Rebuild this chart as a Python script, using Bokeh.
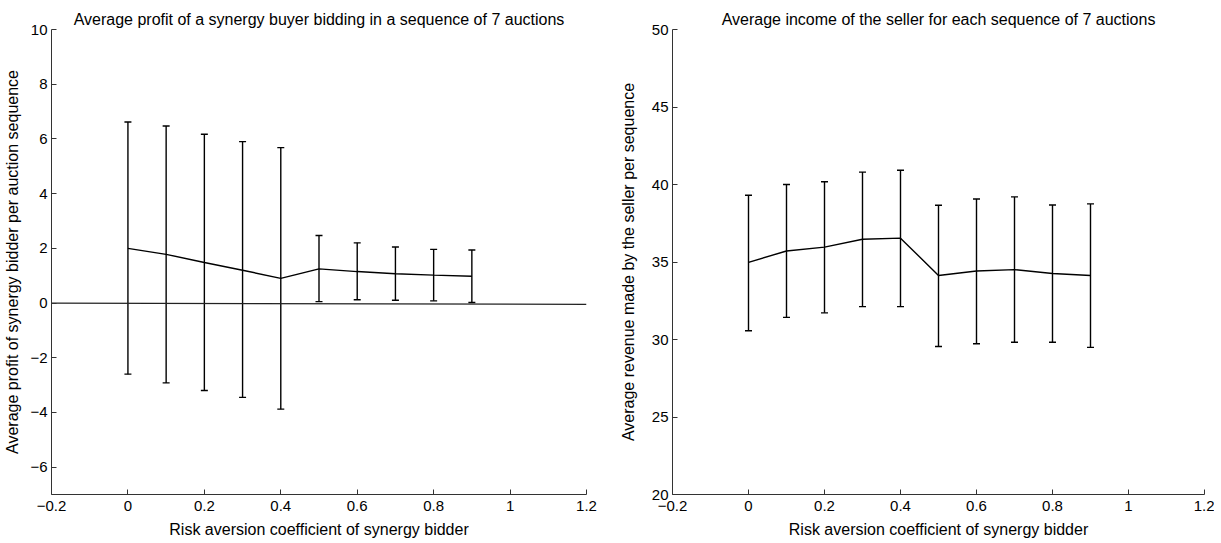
from bokeh.plotting import figure
from bokeh.layouts import row
from bokeh.models import ColumnDataSource, Whisker, TeeHead, FixedTicker, Range1d
from bokeh.embed import file_html
from bokeh.resources import INLINE

# ---- data ----
risk = [0.0, 0.1, 0.2, 0.3, 0.4, 0.5, 0.6, 0.7, 0.8, 0.9]

profit_mean = [2.0, 1.78, 1.48, 1.2, 0.9, 1.25, 1.15, 1.07, 1.02, 0.98]
profit_upper = [6.62, 6.47, 6.17, 5.9, 5.68, 2.47, 2.2, 2.05, 1.96, 1.94]
profit_lower = [-2.6, -2.92, -3.2, -3.45, -3.88, 0.05, 0.12, 0.1, 0.08, 0.02]

zero_x = [-0.2, 1.2]
zero_y = [0.0, -0.05]

income_mean = [34.98, 35.71, 35.96, 36.47, 36.54, 34.13, 34.42, 34.51, 34.26, 34.13]
income_upper = [39.31, 40.0, 40.18, 40.8, 40.92, 38.66, 39.06, 39.2, 38.68, 38.75]
income_lower = [30.56, 31.43, 31.72, 32.12, 32.12, 29.55, 29.73, 29.82, 29.82, 29.49]

x_ticks = [-0.2, 0.0, 0.2, 0.4, 0.6, 0.8, 1.0, 1.2]
x_tick_labels = {-0.2: "\u22120.2", 0.0: "0", 0.2: "0.2", 0.4: "0.4", 0.6: "0.6",
                 0.8: "0.8", 1.0: "1", 1.2: "1.2"}
left_y_ticks = [-6, -4, -2, 0, 2, 4, 6, 8, 10]
left_y_labels = {-6: "\u22126", -4: "\u22124", -2: "\u22122", 0: "0", 2: "2",
                 4: "4", 6: "6", 8: "8", 10: "10"}
right_y_ticks = [20, 25, 30, 35, 40, 45, 50]

FONT = "Liberation Sans"
AXIS_COLOR = "#333333"


def style(p, yticks, ylabels=None, ylabel_standoff=3):
    p.xgrid.visible = False
    p.ygrid.visible = False
    p.outline_line_color = None
    p.title.text_font = FONT
    p.title.text_font_style = "normal"
    p.title.text_font_size = "16px"
    p.title.align = "center"
    p.title.text_color = "black"
    p.title.standoff = 3
    for ax in (p.xaxis[0], p.yaxis[0]):
        ax.major_tick_in = 5
        ax.major_tick_out = 0
        ax.minor_tick_in = 0
        ax.minor_tick_out = 0
        ax.axis_line_color = AXIS_COLOR
        ax.major_tick_line_color = AXIS_COLOR
        ax.major_label_text_font = FONT
        ax.major_label_text_font_size = "15px"
        ax.major_label_text_color = "black"
        ax.axis_label_text_font = FONT
        ax.axis_label_text_font_style = "normal"
        ax.axis_label_text_color = "black"
        ax.axis_label_text_font_size = "16px"
    p.xaxis[0].ticker = FixedTicker(ticks=x_ticks)
    p.xaxis[0].major_label_overrides = x_tick_labels
    p.xaxis[0].major_label_standoff = 6
    p.xaxis[0].axis_label_standoff = 7
    p.yaxis[0].ticker = FixedTicker(ticks=yticks)
    p.yaxis[0].major_label_standoff = 4
    p.yaxis[0].axis_label_standoff = ylabel_standoff
    if ylabels:
        p.yaxis[0].major_label_overrides = ylabels


# ---- left panel ----
p1 = figure(frame_width=535, frame_height=465, output_backend="svg", toolbar_location=None,
            x_range=Range1d(-0.2, 1.2), y_range=Range1d(-7, 10),
            title="Average profit of a synergy buyer bidding in a sequence of 7 auctions",
            x_axis_label="Risk aversion coefficient of synergy bidder",
            y_axis_label="Average profit of synergy bidder per auction sequence",
            min_border_left=51, min_border_right=30, min_border_top=29, min_border_bottom=48)
style(p1, left_y_ticks, left_y_labels, ylabel_standoff=6)

src1 = ColumnDataSource(dict(x=risk, m=profit_mean, up=profit_upper, lo=profit_lower))
p1.line(zero_x, zero_y, line_color="#222222", line_width=1.2)
p1.line("x", "m", source=src1, line_color="black", line_width=1.4)
p1.add_layout(Whisker(source=src1, base="x", upper="up", lower="lo", line_color="black", line_width=1.4,
                      upper_head=TeeHead(size=7, line_color="black", line_width=1.4),
                      lower_head=TeeHead(size=7, line_color="black", line_width=1.4)))

# ---- right panel ----
p2 = figure(frame_width=532, frame_height=465, output_backend="svg", toolbar_location=None,
            x_range=Range1d(-0.2, 1.2), y_range=Range1d(20, 50),
            title="Average income of the seller for each sequence of 7 auctions",
            x_axis_label="Risk aversion coefficient of synergy bidder",
            y_axis_label="Average revenue made by the seller per sequence",
            min_border_left=55, min_border_right=10, min_border_top=29, min_border_bottom=48)
style(p2, right_y_ticks, ylabel_standoff=12)

src2 = ColumnDataSource(dict(x=risk, m=income_mean, up=income_upper, lo=income_lower))
p2.line("x", "m", source=src2, line_color="black", line_width=1.4)
p2.add_layout(Whisker(source=src2, base="x", upper="up", lower="lo", line_color="black", line_width=1.4,
                      upper_head=TeeHead(size=7, line_color="black", line_width=1.4),
                      lower_head=TeeHead(size=7, line_color="black", line_width=1.4)))

layout = row(p1, p2)
open("out.html", "w").write(file_html(layout, INLINE))
